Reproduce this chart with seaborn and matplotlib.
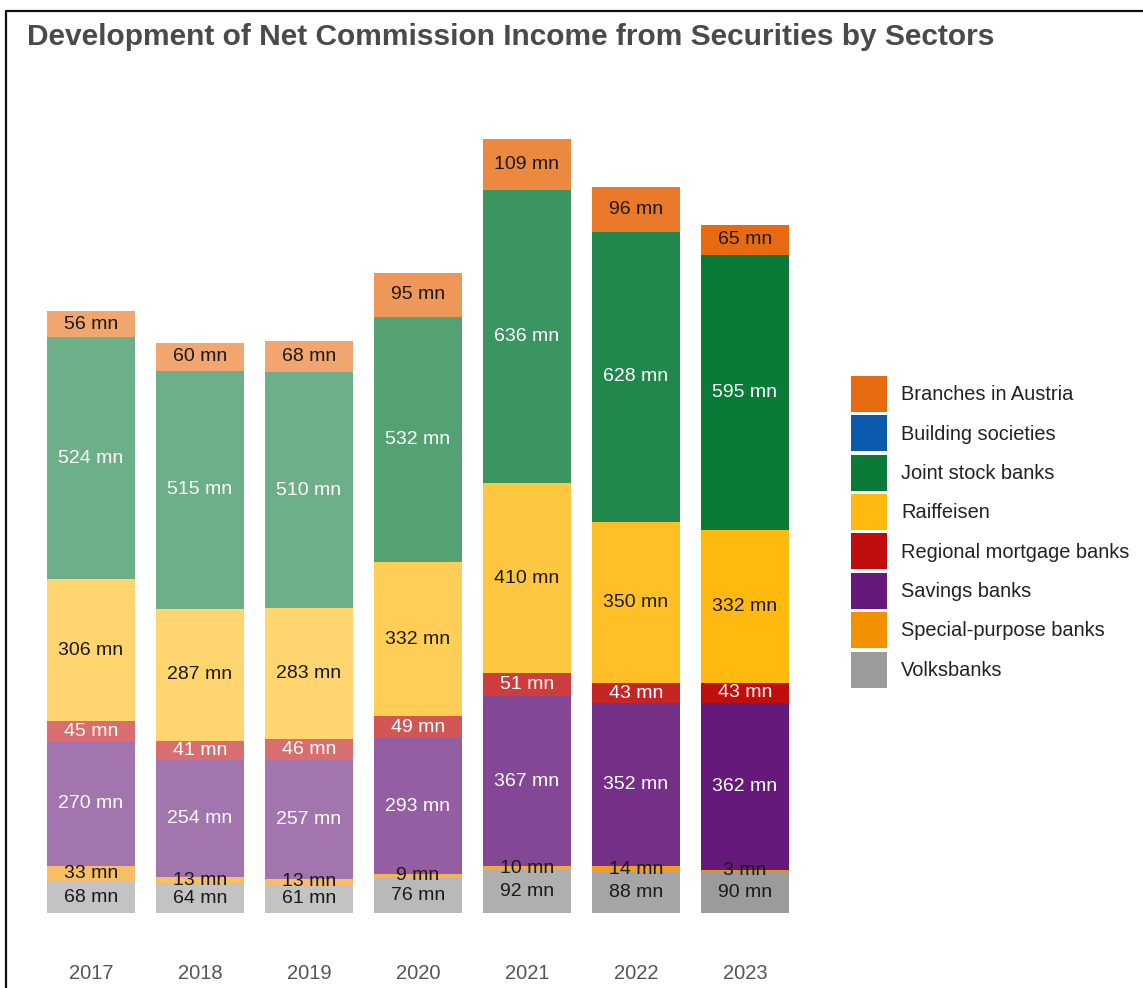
import numpy as np
import pandas as pd
import matplotlib
matplotlib.use("Agg")
import matplotlib.pyplot as plt
from matplotlib.patches import Patch
from matplotlib.lines import Line2D
from matplotlib.colors import to_rgb
import seaborn as sns

# ---- data (EUR mn) ----
years = ["2017", "2018", "2019", "2020", "2021", "2022", "2023"]
volksbanks = [68, 64, 61, 76, 92, 88, 90]
special_purpose = [33, 13, 13, 9, 10, 14, 3]
savings = [270, 254, 257, 293, 367, 352, 362]
regional_mortgage = [45, 41, 46, 49, 51, 43, 43]
raiffeisen = [306, 287, 283, 332, 410, 350, 332]
building_societies = [0, 0, 0, 0, 0, 0, 0]
joint_stock = [524, 515, 510, 532, 636, 628, 595]
branches = [56, 60, 68, 95, 109, 96, 65]

# stacking order, bottom to top: (name, values, colour, label text colour)
layers = [
    ("Volksbanks", volksbanks, "#9b9b9b", "#1a1a1a"),
    ("Special-purpose banks", special_purpose, "#f39200", "#1a1a1a"),
    ("Savings banks", savings, "#65197a", "#ffffff"),
    ("Regional mortgage banks", regional_mortgage, "#c00d0d", "#ffffff"),
    ("Raiffeisen", raiffeisen, "#ffb90f", "#1a1a1a"),
    ("Building societies", building_societies, "#0b5aad", "#ffffff"),
    ("Joint stock banks", joint_stock, "#0a7a38", "#ffffff"),
    ("Branches in Austria", branches, "#e76a10", "#1a1a1a"),
]
legend_order = ["Branches in Austria", "Building societies", "Joint stock banks",
                "Raiffeisen", "Regional mortgage banks", "Savings banks",
                "Special-purpose banks", "Volksbanks"]

# older years are drawn in lighter tints
year_opacity = [0.6, 0.6, 0.6, 0.7, 0.8, 0.9, 1.0]


def tint(color, a):
    r, g, b = to_rgb(color)
    return (a * r + (1 - a), a * g + (1 - a), a * b + (1 - a))


sns.set_theme(style="white")
plt.rcParams["font.family"] = ["Liberation Sans", "DejaVu Sans"]

W, H, DPI = 1143, 988, 100
fig = plt.figure(figsize=(W / DPI, H / DPI), dpi=DPI, facecolor="white")
ax = fig.add_axes([36.5 / W, (H - 913) / H, 763 / W, 803 / H])

bottom = np.zeros(len(years))
for name, vals, col, tcol in layers:
    vals = np.asarray(vals, dtype=float)
    df = pd.DataFrame({"year": years, "value": vals})
    sns.barplot(data=df, x="year", y="value", order=years, bottom=bottom,
                color=col, saturation=1, width=0.807, errorbar=None,
                linewidth=0, ax=ax)
    bars = ax.patches[-len(years):]
    for i, bar in enumerate(bars):
        bar.set_facecolor(tint(col, year_opacity[i]))
        bar.set_edgecolor("none")
        if vals[i] > 0:
            ax.text(i, bottom[i] + vals[i] / 2, f"{vals[i]:.0f} mn",
                    ha="center", va="center", fontsize=14, color=tcol)
    bottom = bottom + vals

ax.set_xlim(-0.5, 6.5)
ax.set_ylim(0, 803 / 0.462)
ax.set_xlabel("")
ax.set_ylabel("")
ax.set_yticks([])
ax.tick_params(axis="x", length=0, pad=37, labelsize=14.5, labelcolor="#555555")
sns.despine(ax=ax, left=True, bottom=True)
ax.set_facecolor("white")

# legend with square swatches
colors = {name: col for name, _, col, _ in layers}
handles = [Patch(facecolor=colors[n], edgecolor="none", label=n) for n in legend_order]
fig.legend(handles=handles, loc="upper left",
           bbox_to_anchor=(851 / W, 1 - 376 / H), bbox_transform=fig.transFigure,
           frameon=False, fontsize=14.4, handlelength=1.8, handleheight=2.39,
           handletextpad=0.7, labelspacing=0.17, borderpad=0, borderaxespad=0,
           labelcolor="#222222")

fig.text(27 / W, 1 - 37 / H,
         "Development of Net Commission Income from Securities by Sectors",
         fontsize=21.5, fontweight="bold", color="#4a4a4a", ha="left", va="center")

# outer frame (top and left edge)
fig.add_artist(Line2D([6 / W, 1], [1 - 11 / H, 1 - 11 / H], color="#111111",
                      linewidth=1.6, transform=fig.transFigure))
fig.add_artist(Line2D([6 / W, 6 / W], [0, 1 - 11 / H], color="#111111",
                      linewidth=1.6, transform=fig.transFigure))

fig.savefig("out.png", dpi=DPI, facecolor="white")
